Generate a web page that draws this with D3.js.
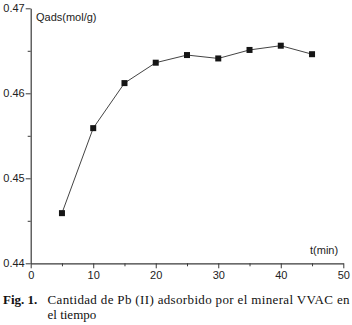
<!DOCTYPE html>
<html><head><meta charset="utf-8">
<script src="https://cdn.jsdelivr.net/npm/d3@7/dist/d3.min.js"></script>
<style>
html,body{margin:0;padding:0;background:#fff;}
svg{display:block;}
</style></head>
<body>
<script>
const times = [5, 10, 15, 20, 25, 30, 35, 40, 45];
const qads = [0.4459, 0.4559, 0.4612, 0.4636, 0.4645, 0.4641, 0.4651, 0.4656, 0.4646];
const xTicks = [0, 10, 20, 30, 40, 50];
const xMinor = [5, 15, 25, 35, 45];
const yTicks = [0.44, 0.45, 0.46, 0.47];
const yMinor = [0.445, 0.455, 0.465];
const yLabel = "Qads(mol/g)";
const xLabel = "t(min)";
const captionBold = "Fig. 1.";
const captionLines = ["Cantidad de Pb (II) adsorbido por el mineral VVAC en", "el tiempo"];

const W = 352, H = 325;
const svg = d3.select("body").append("svg").attr("width", W).attr("height", H);

const x = d3.scaleLinear().domain([0, 50]).range([30.7, 343.3]);
const y = d3.scaleLinear().domain([0.44, 0.47]).range([263.3, 8.3]);

const axisColor = "#3a3a3a";
const font = "'Liberation Sans', Arial, sans-serif";

// Minor ticks
svg.append("g").attr("transform", `translate(0,${y(0.44)})`)
  .call(d3.axisBottom(x).tickValues(xMinor).tickSize(3).tickFormat(""))
  .call(g => g.select(".domain").remove())
  .call(g => g.selectAll("line").attr("stroke", axisColor));
svg.append("g").attr("transform", `translate(${x(0)},0)`)
  .call(d3.axisLeft(y).tickValues(yMinor).tickSize(3).tickFormat(""))
  .call(g => g.select(".domain").remove())
  .call(g => g.selectAll("line").attr("stroke", axisColor));

// Major axes
const xa = svg.append("g").attr("transform", `translate(0,${y(0.44)})`)
  .call(d3.axisBottom(x).tickValues(xTicks).tickSize(5).tickSizeOuter(0).tickPadding(3).tickFormat(d3.format("d")));
const ya = svg.append("g").attr("transform", `translate(${x(0)},0)`)
  .call(d3.axisLeft(y).tickValues(yTicks).tickSize(5).tickSizeOuter(0).tickPadding(1).tickFormat(d3.format(".2f")));
[xa, ya].forEach(a => {
  a.select(".domain").attr("stroke", axisColor).attr("stroke-width", 1.2);
  a.selectAll("line").attr("stroke", axisColor).attr("stroke-width", 1);
  a.selectAll("text").attr("font-family", font).attr("font-size", 11).attr("fill", "#222");
});

// Data line
const line = d3.line().x((d, i) => x(times[i])).y(d => y(d));
svg.append("path").datum(qads)
  .attr("d", line)
  .attr("fill", "none")
  .attr("stroke", "#444")
  .attr("stroke-width", 1);

svg.selectAll("rect.pt").data(qads).enter().append("rect")
  .attr("class", "pt")
  .attr("x", (d, i) => x(times[i]) - 3)
  .attr("y", d => y(d) - 3)
  .attr("width", 6).attr("height", 6)
  .attr("fill", "#151515");

// Axis labels
svg.append("text").attr("x", 36).attr("y", 21)
  .attr("font-family", font).attr("font-size", 11).attr("fill", "#222")
  .text(yLabel);
svg.append("text").attr("x", 310).attr("y", 253.5)
  .attr("font-family", font).attr("font-size", 11).attr("fill", "#222")
  .text(xLabel);

// Caption
const serif = "'Liberation Serif', 'Times New Roman', serif";
svg.append("text").attr("x", 3).attr("y", 304)
  .attr("font-family", serif).attr("font-size", 13).attr("font-weight", "bold").attr("fill", "#111")
  .text(captionBold);
captionLines.forEach((t, i) => {
  const tx = svg.append("text").attr("x", 47.5).attr("y", 304 + i * 14.5)
    .attr("font-family", serif).attr("font-size", 13).attr("fill", "#111")
    .text(t);
  if (i === 0) tx.attr("textLength", 302).attr("lengthAdjust", "spacing");
});
</script>
</body></html>
